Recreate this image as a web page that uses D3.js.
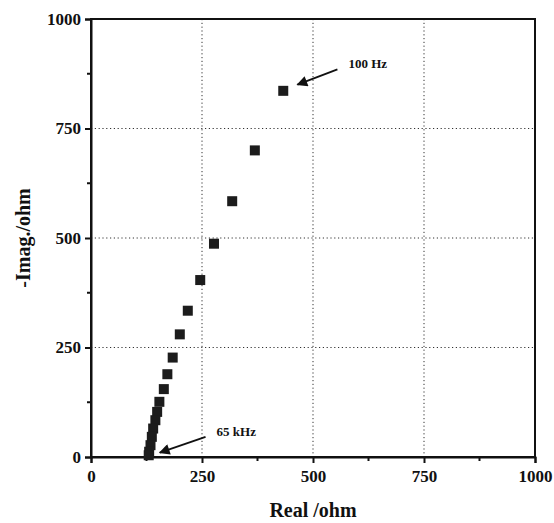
<!DOCTYPE html>
<html>
<head>
<meta charset="utf-8">
<script src="https://cdn.jsdelivr.net/npm/d3@7"></script>
<style>
  body { margin: 0; background: #fff; }
  text { font-family: "Liberation Serif", "Times New Roman", serif; font-weight: bold; fill: #111; }
</style>
</head>
<body>
<div id="chart"></div>
<script>
// impedance data
var realOhm = [433, 369, 318, 277, 246, 218, 200, 184, 172, 164, 154, 149, 145, 140, 137, 134, 131, 130];
var imagOhm = [836, 700, 584, 487, 404, 334, 280, 227, 189, 155, 126, 103, 84, 65, 46, 27, 12, 4];

var xTicks = [0, 250, 500, 750, 1000];
var yTicks = [0, 250, 500, 750, 1000];
var minorTicks = [125, 375, 625, 875];

var notes = [
  {label: "100 Hz", tail: [555, 885], head: [465, 850]},
  {label: "65 kHz", tail: [258, 46], head: [155, 10]}
];

var W = 554, H = 523;
var margin = {top: 19, right: 19, bottom: 66, left: 91},
    width = W - margin.left - margin.right,
    height = H - margin.top - margin.bottom;

var svg = d3.select("#chart").append("svg")
    .attr("width", W)
    .attr("height", H);

var defs = svg.append("defs");
defs.append("marker")
    .attr("id", "arrow")
    .attr("viewBox", "0 0 10 10")
    .attr("refX", 9).attr("refY", 5)
    .attr("markerWidth", 7).attr("markerHeight", 6)
    .attr("orient", "auto")
  .append("path")
    .attr("d", "M0,0 L10,5 L0,10 z")
    .attr("fill", "#111");

var g = svg.append("g")
    .attr("transform", "translate(" + margin.left + "," + margin.top + ")");

var x = d3.scaleLinear().domain([0, 1000]).range([0, width]);
var y = d3.scaleLinear().domain([0, 1000]).range([height, 0]);

// dotted grid
g.selectAll(".vgrid").data([250, 500, 750]).enter().append("line")
    .attr("x1", d => x(d)).attr("x2", d => x(d))
    .attr("y1", 0).attr("y2", height)
    .attr("stroke", "#333").attr("stroke-width", 1)
    .attr("stroke-dasharray", "1.2,2.6");
g.selectAll(".hgrid").data([250, 500, 750]).enter().append("line")
    .attr("y1", d => y(d)).attr("y2", d => y(d))
    .attr("x1", 0).attr("x2", width)
    .attr("stroke", "#333").attr("stroke-width", 1)
    .attr("stroke-dasharray", "1.2,2.6");

// frame
g.append("rect")
    .attr("width", width).attr("height", height)
    .attr("fill", "none").attr("stroke", "#111").attr("stroke-width", 2);

var xAxis = d3.axisBottom(x).tickValues(xTicks).tickSize(6).tickPadding(7).tickFormat(d3.format("d"));
var yAxis = d3.axisLeft(y).tickValues(yTicks).tickSize(6).tickPadding(4).tickFormat(d3.format("d"));

var gx = g.append("g")
    .attr("transform", "translate(0," + height + ")")
    .call(xAxis);
var gy = g.append("g").call(yAxis);

[gx, gy].forEach(function(a) {
  a.select(".domain").attr("stroke", "#111").attr("stroke-width", 2);
  a.selectAll(".tick line").attr("stroke", "#111").attr("stroke-width", 2);
  a.selectAll(".tick text")
    .attr("font-family", "Liberation Serif, serif")
    .attr("font-weight", "bold")
    .attr("font-size", 17)
    .attr("fill", "#111");
});

// minor ticks
g.selectAll(".xminor").data(minorTicks).enter().append("line")
    .attr("x1", d => x(d)).attr("x2", d => x(d))
    .attr("y1", height).attr("y2", height + 4)
    .attr("stroke", "#111").attr("stroke-width", 2);
g.selectAll(".yminor").data(minorTicks).enter().append("line")
    .attr("y1", d => y(d)).attr("y2", d => y(d))
    .attr("x1", 0).attr("x2", -4)
    .attr("stroke", "#111").attr("stroke-width", 2);

// points
var pts = realOhm.map(function(r, i) { return {re: r, im: imagOhm[i]}; });
var s = 10;
g.selectAll(".pt").data(pts).enter().append("rect")
    .attr("x", d => x(d.re) - s / 2)
    .attr("y", d => y(d.im) - s / 2)
    .attr("width", s).attr("height", s)
    .attr("fill", "#1c1c1c");

// annotations
notes.forEach(function(n) {
  g.append("line")
    .attr("x1", x(n.tail[0])).attr("y1", y(n.tail[1]))
    .attr("x2", x(n.head[0])).attr("y2", y(n.head[1]))
    .attr("stroke", "#111").attr("stroke-width", 1.8)
    .attr("marker-end", "url(#arrow)");
  g.append("text")
    .attr("x", x(n.tail[0]) + 11)
    .attr("y", y(n.tail[1]) - 1)
    .attr("font-size", 13)
    .text(n.label);
});

// axis titles
svg.append("text")
    .attr("x", margin.left + width / 2)
    .attr("y", 517)
    .attr("text-anchor", "middle")
    .attr("font-size", 20)
    .text("Real /ohm");

svg.append("text")
    .attr("transform", "translate(30," + (margin.top + height / 2) + ") rotate(-90)")
    .attr("text-anchor", "middle")
    .attr("font-size", 20)
    .text("-Imag./ohm");
</script>
</body>
</html>
